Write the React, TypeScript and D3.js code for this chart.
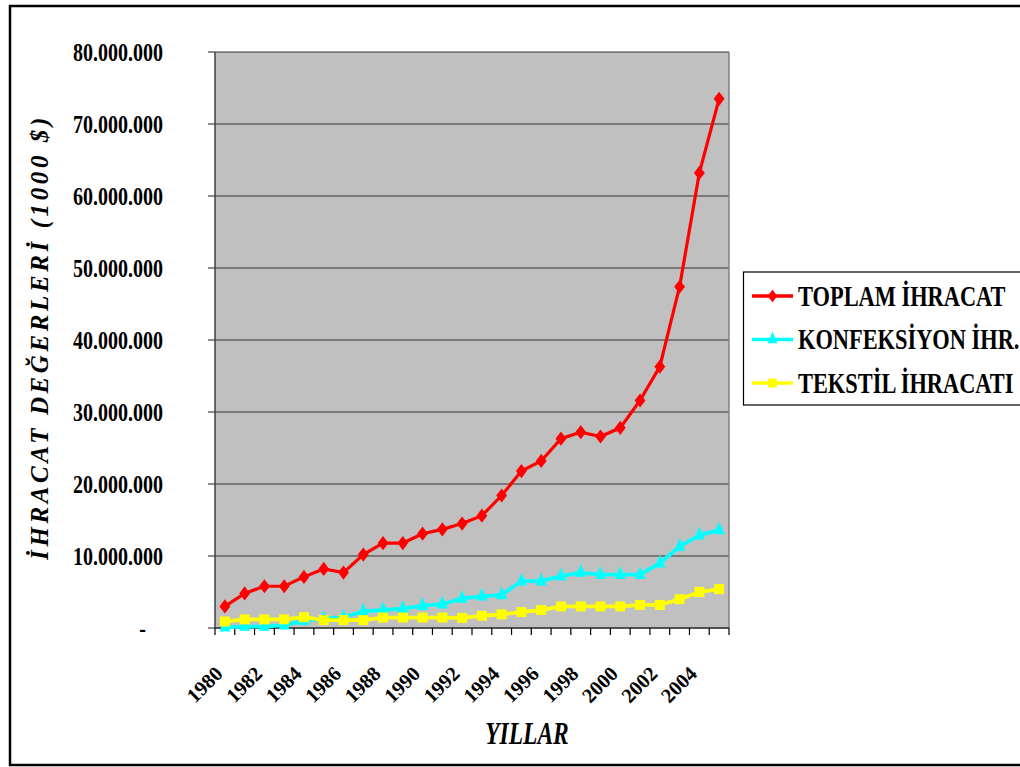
import React from "react";
import * as d3 from "d3";

// Export values, thousand USD
const years = [
  1980, 1981, 1982, 1983, 1984, 1985, 1986, 1987, 1988, 1989, 1990, 1991, 1992,
  1993, 1994, 1995, 1996, 1997, 1998, 1999, 2000, 2001, 2002, 2003, 2004, 2005,
];
const toplam = [
  3.0, 4.8, 5.8, 5.8, 7.1, 8.2, 7.7, 10.2, 11.8, 11.8, 13.1, 13.7, 14.5, 15.6,
  18.4, 21.8, 23.2, 26.3, 27.2, 26.6, 27.8, 31.6, 36.3, 47.4, 63.2, 73.5,
].map((v) => v * 1e6);
const konfeksiyon = [
  0.1, 0.2, 0.2, 0.4, 1.0, 1.3, 1.5, 2.3, 2.5, 2.7, 3.1, 3.3, 4.1, 4.4, 4.6,
  6.5, 6.5, 7.2, 7.7, 7.4, 7.4, 7.4, 9.0, 11.3, 12.9, 13.6,
].map((v) => v * 1e6);
const tekstil = [
  0.9, 1.2, 1.2, 1.2, 1.5, 1.1, 1.1, 1.1, 1.45, 1.45, 1.45, 1.45, 1.4, 1.7, 1.9,
  2.2, 2.5, 3.0, 3.0, 3.0, 3.0, 3.2, 3.2, 4.0, 5.0, 5.4,
].map((v) => v * 1e6);
const yTicks = [0, 1e7, 2e7, 3e7, 4e7, 5e7, 6e7, 7e7, 8e7];
const xLabelYears = [1980, 1982, 1984, 1986, 1988, 1990, 1992, 1994, 1996, 1998, 2000, 2002, 2004];

const seriesNames = ["TOPLAM İHRACAT", "KONFEKSİYON İHR.", "TEKSTİL İHRACATI"];
const seriesColors = ["#ff0000", "#00ffff", "#ffff00"];
const seriesShapes = [d3.symbolDiamond, d3.symbolTriangle, d3.symbolSquare];
const seriesValues = [toplam, konfeksiyon, tekstil];

const FONT = "Liberation Serif, Times New Roman, serif";
const STRETCH = 1.3; // tall, narrow glyphs

const left = 215;
const right = 729;
const top = 52;
const bottom = 628;

// marker geometry per series: symbol size and extra scaling
const markerSize = [58, 52, 100];
const markerScale = ["scale(1.33,1)", "scale(1,1.35)", ""];

function Txt(props: {
  x: number;
  y: number;
  size: number;
  anchor?: string;
  italic?: boolean;
  children: React.ReactNode;
}) {
  return (
    <text
      transform={`translate(${props.x},${props.y}) scale(1,${STRETCH})`}
      textAnchor={props.anchor || "start"}
      fontFamily={FONT}
      fontWeight="bold"
      fontStyle={props.italic ? "italic" : "normal"}
      fontSize={props.size}
    >
      {props.children}
    </text>
  );
}

export default function App() {
  const x = d3.scaleBand<number>().domain(years).range([left, right]).padding(0);
  const y = d3.scaleLinear().domain([0, 8e7]).range([bottom, top]);
  const cx = (yr: number) => (x(yr) as number) + x.bandwidth() / 2;
  const line = d3
    .line<number>()
    .x((_, i) => cx(years[i]))
    .y((v) => y(v));

  const fmt = (v: number) => (v === 0 ? "-" : d3.format(",")(v).replace(/,/g, "."));
  const xTickPositions = years.map((yr) => x(yr) as number).concat([right]);
  const symbolPath = (s: number, k = 1) =>
    d3.symbol().type(seriesShapes[s]).size(markerSize[s] * k)() as string;

  const tickFont = 20;
  const legendFont = 22.4;
  const capMid = (size: number) => 0.33 * size * STRETCH;

  return (
    <svg
      width={1020}
      height={767}
      style={{ position: "absolute", left: 0, top: 0, background: "#fff" }}
    >
      <rect x={10} y={6} width={1030} height={759} fill="#fff" stroke="#000" strokeWidth={2.5} />

      {/* plot area */}
      <rect x={left} y={top} width={right - left} height={bottom - top} fill="#c0c0c0" />
      {yTicks.map((t) => (
        <line key={t} x1={left} x2={right} y1={y(t)} y2={y(t)} stroke="#333" strokeWidth={1.2} />
      ))}
      <line x1={right} x2={right} y1={top} y2={bottom} stroke="#808080" strokeWidth={1.5} />
      <line x1={left} x2={left} y1={top} y2={bottom} stroke="#404040" strokeWidth={1.5} />
      <line x1={left} x2={right} y1={bottom} y2={bottom} stroke="#404040" strokeWidth={1.5} />

      {/* y ticks and labels */}
      {yTicks.map((t) => (
        <g key={"yt" + t}>
          <line x1={left - 7} x2={left} y1={y(t)} y2={y(t)} stroke="#404040" strokeWidth={1.2} />
          <Txt x={t === 0 ? 146 : 163} y={y(t) + capMid(tickFont)} size={tickFont} anchor="end">
            {fmt(t)}
          </Txt>
        </g>
      ))}

      {/* x ticks */}
      {xTickPositions.map((p, i) => (
        <line key={"xt" + i} x1={p} x2={p} y1={bottom} y2={bottom + 7} stroke="#000" strokeWidth={1.2} />
      ))}
      {xLabelYears.map((yr) => (
        <text
          key={"xl" + yr}
          transform={`translate(${cx(yr) - 1},${bottom + 47}) rotate(-45)`}
          textAnchor="end"
          fontFamily={FONT}
          fontWeight="bold"
          fontSize={20.5}
        >
          {yr}
        </text>
      ))}

      {/* series */}
      {seriesValues.map((vals, s) => (
        <g key={"s" + s}>
          <path d={line(vals) as string} fill="none" stroke={seriesColors[s]} strokeWidth={s === 0 ? 3.2 : 3.8} />
          {vals.map((v, i) => (
            <path
              key={i}
              transform={`translate(${cx(years[i])},${y(v)}) ${markerScale[s]}`}
              d={symbolPath(s)}
              fill={seriesColors[s]}
            />
          ))}
        </g>
      ))}

      {/* axis titles */}
      <text
        transform={`translate(48,${(top + bottom) / 2 - 3}) rotate(-90)`}
        textAnchor="middle"
        fontFamily={FONT}
        fontWeight="bold"
        fontStyle="italic"
        fontSize={25}
        letterSpacing={3.6}
      >
        İHRACAT DEĞERLERİ (1000 $)
      </text>
      <Txt x={527} y={744} size={23.5} anchor="middle" italic>
        YILLAR
      </Txt>

      {/* legend */}
      <rect x={743.5} y={272} width={300} height={133} fill="#fff" stroke="#000" strokeWidth={1.2} />
      {seriesNames.map((name, s) => {
        const ly = 296 + s * 43.5;
        return (
          <g key={"lg" + s}>
            <line x1={752} x2={793} y1={ly} y2={ly} stroke={seriesColors[s]} strokeWidth={3.5} />
            <path
              transform={`translate(772.5,${ly}) ${markerScale[s]}`}
              d={symbolPath(s, 0.8)}
              fill={seriesColors[s]}
            />
            <Txt x={798} y={ly + capMid(legendFont)} size={legendFont}>
              {name}
            </Txt>
          </g>
        );
      })}
    </svg>
  );
}
